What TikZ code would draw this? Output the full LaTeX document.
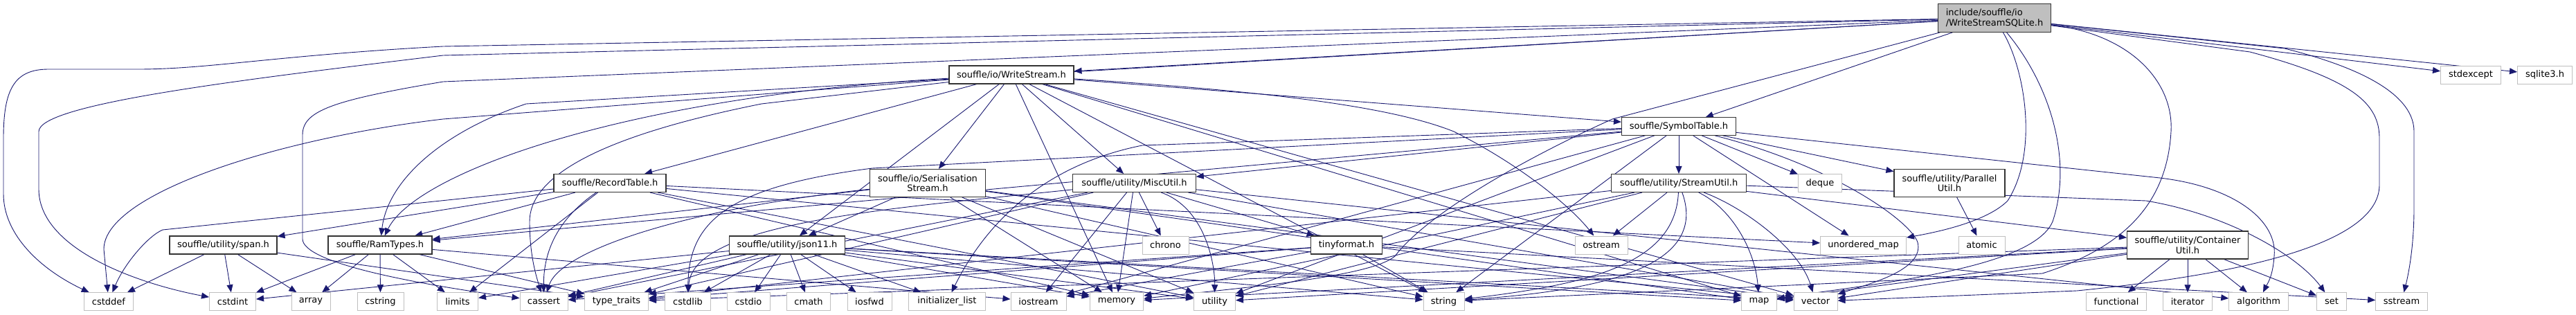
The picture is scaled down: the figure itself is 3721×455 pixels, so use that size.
\documentclass[tikz,border=0pt]{standalone}
\usepackage{fontspec}
\setmainfont{DejaVu Sans}
\usetikzlibrary{arrows.meta}
\definecolor{edgec}{HTML}{191970}
\definecolor{sysb}{HTML}{BFBFBF}
\definecolor{projb}{HTML}{333333}
\definecolor{mainf}{HTML}{BFBFBF}
\pgfdeclarelayer{bg}
\pgfsetlayers{bg,main}
\tikzset{
  box/.style={draw, line width=1.1pt, fill=white, inner sep=0pt, align=center,
    font=\fontsize{13}{14.5}\selectfont, minimum height=26pt},
  sys/.style={box, draw=sysb, line width=1pt},
  proj/.style={box, draw=projb},
  mainbox/.style={box, draw=projb, fill=mainf, align=left},
  e/.style={draw=edgec, line width=0.9pt, -{Triangle[length=11pt,width=9pt]}}
}
\begin{document}
\begin{tikzpicture}[x=1pt,y=-1pt]
\useasboundingbox (0,0) rectangle (3721,455);
% top
\node[mainbox, minimum width=163pt, minimum height=40.5pt] (main) at (2881,26) {include/souffle/io\\/WriteStreamSQLite.h};
\node[proj, minimum width=180pt] (ws) at (1461,108) {souffle/io/WriteStream.h};
\node[sys, minimum width=87pt] (stdexcept) at (3569,108) {stdexcept};
\node[sys, minimum width=79pt] (sqlite) at (3676,108) {sqlite3.h};
\node[proj, minimum width=165pt, minimum height=25.5pt] (symt) at (2425,182.5) {souffle/SymbolTable.h};
% middle rank
\node[proj, minimum width=162pt] (rect) at (881,264.5) {souffle/RecordTable.h};
\node[proj, minimum width=167pt, minimum height=40pt] (ser) at (1340,264.5) {souffle/io/Serialisation\\Stream.h};
\node[proj, minimum width=177.5pt] (misc) at (1638.5,264.5) {souffle/utility/MiscUtil.h};
\node[proj, minimum width=195pt] (sutil) at (2425,264.5) {souffle/utility/StreamUtil.h};
\node[sys, minimum width=63pt] (deque) at (2629,264.5) {deque};
\node[proj, minimum width=160pt, minimum height=40pt] (par) at (2816,264.5) {souffle/utility/Parallel\\Util.h};
% lower rank
\node[proj, minimum width=155pt] (span) at (322.5,354) {souffle/utility/span.h};
\node[proj, minimum width=150pt] (ram) at (549,354) {souffle/RamTypes.h};
\node[proj, minimum width=167pt] (json) at (1137,354) {souffle/utility/json11.h};
\node[sys, minimum width=67pt] (chrono) at (1683.5,354) {chrono};
\node[proj, minimum width=103pt] (tiny) at (1945,354) {tinyformat.h};
\node[sys, minimum width=76pt] (ostream) at (2313,354) {ostream};
\node[sys, minimum width=124pt] (umap) at (2691.5,354) {unordered\_map};
\node[sys, minimum width=67pt] (atomic) at (2862.5,354) {atomic};
\node[proj, minimum width=175pt, minimum height=40pt] (cont) at (3160,354) {souffle/utility/Container\\Util.h};
% bottom row
\tikzset{bot/.style={sys, minimum height=25.5pt}}
\node[bot, minimum width=71pt] (cstddef) at (157,435.5) {cstddef};
\node[bot, minimum width=67pt] (cstdint) at (336,435.5) {cstdint};
\node[bot, minimum width=56pt] (array) at (449,435.5) {array};
\node[bot, minimum width=67pt] (cstring) at (549.5,435.5) {cstring};
\node[bot, minimum width=59pt] (limits) at (661,435.5) {limits};
\node[bot, minimum width=69pt] (cassert) at (785.5,435.5) {cassert};
\node[bot, minimum width=92pt] (typetr) at (890.5,435.5) {type\_traits};
\node[bot, minimum width=66pt] (cstdlib) at (993.5,435.5) {cstdlib};
\node[bot, minimum width=62pt] (cstdio) at (1081,435.5) {cstdio};
\node[bot, minimum width=63pt] (cmath) at (1168,435.5) {cmath};
\node[bot, minimum width=64pt] (iosfwd) at (1256,435.5) {iosfwd};
\node[bot, minimum width=111pt] (initl) at (1368,435.5) {initializer\_list};
\node[bot, minimum width=80pt] (iostream) at (1500,435.5) {iostream};
\node[bot, minimum width=77.5pt] (memory) at (1613,435.5) {memory};
\node[bot, minimum width=60pt] (utility) at (1754.5,435.5) {utility};
\node[bot, minimum width=59pt] (string) at (2085.5,435.5) {string};
\node[bot, minimum width=50.5pt] (map) at (2541,435.5) {map};
\node[bot, minimum width=63pt] (vector) at (2622.5,435.5) {vector};
\node[bot, minimum width=86.5pt] (functional) at (3057,435.5) {functional};
\node[bot, minimum width=70.5pt] (iterator) at (3160,435.5) {iterator};
\node[bot, minimum width=85.5pt] (algorithm) at (3262.5,435.5) {algorithm};
\node[bot, minimum width=43pt] (set) at (3368,435.5) {set};
\node[bot, minimum width=74.5pt] (sstream) at (3469,435.5) {sstream};

\begin{pgfonlayer}{bg}
% ---- main
\draw[e] (main) -- (ws);
\draw[e] (main) -- (symt);
\draw[e] (main) -- (stdexcept);
\draw[e] (main) -- (sqlite);
\draw[e] (main) -- (640,67) .. controls (400,80) and (300,100) .. (200,100) -- (70,100) .. controls (20,100) and (5,130) .. (5,200) -- (5,280) .. controls (5,340) and (60,390) .. (cstddef);
\draw[e] (main) -- (640,80) .. controls (350,115) and (56,150) .. (56,190) -- (56,273) .. controls (56,360) and (200,410) .. (cstdint);
\draw[e] (main) -- (640,118) .. controls (480,145) and (437,160) .. (437,195) -- (437,345) .. controls (437,380) and (600,410) .. (cassert);
\draw[e] (main) -- (760,150) .. controls (640,190) and (560,260) .. (ram);
\draw[e] (main) -- (3300,70) .. controls (3420,100) and (3487,140) .. (3487,190) -- (3487,300) .. controls (3487,360) and (3478,400) .. (sstream);
\draw[e] (main) -- (3250,75) .. controls (3400,115) and (3437,150) .. (3437,200) -- (3437,267) .. controls (3437,360) and (3200,400) .. (3000,420) -- (vector);
\draw[e] (main) .. controls (2925,100) and (2945,220) .. (2900,290) .. controls (2870,320) and (2800,335) .. (umap);
\draw[e] (main) .. controls (2960,120) and (2995,230) .. (2965,320) .. controls (2935,390) and (2700,410) .. (map);
\draw[e] (main) .. controls (3080,50) and (3140,120) .. (3136,190) .. controls (3130,300) and (3060,360) .. (2950,395) -- (string);
\draw[e] (main) -- (2329,172) .. controls (2200,230) and (2060,310) .. (2015,370) .. controls (1980,400) and (1800,415) .. (memory);
% ---- WriteStream
\draw[e] (ws) .. controls (900,140) and (600,250) .. (ram);
\draw[e] (ws) -- (rect);
\draw[e] (ws) -- (ser);
\draw[e] (ws) -- (json);
\draw[e] (ws) -- (misc);
\draw[e] (ws) -- (memory);
\draw[e] (ws) -- (symt);
\draw[e] (ws) -- (string);
\draw[e] (ws) -- (map);
\draw[e] (ws) -- (vector);
\draw[e] (ws) -- (640,172) .. controls (400,200) and (150,280) .. (150,360) -- (cstddef);
\draw[e] (ws) -- (1100,150) .. controls (850,200) and (765,260) .. (765,320) .. controls (765,370) and (775,400) .. (cassert);
\draw[e] (ws) .. controls (1800,130) and (2000,150) .. (2100,190) .. controls (2200,240) and (2270,300) .. (ostream);
% ---- RecordTable
\draw[e] (rect) -- (ram);
\draw[e] (rect) -- (span);
\draw[e] (rect) .. controls (800,320) and (785,370) .. (cassert);
\draw[e] (rect) -- (235,332) .. controls (215,340) and (180,380) .. (cstddef);
\draw[e] (rect) -- (limits);
\draw[e] (rect) -- (memory);
\draw[e] (rect) -- (umap);
\draw[e] (rect) -- (utility);
\draw[e] (rect) -- (vector);
% ---- Serialisation
\draw[e] (ser) -- (ram);
\draw[e] (ser) -- (json);
\draw[e] (ser) .. controls (1000,300) and (810,360) .. (cassert);
\draw[e] (ser) -- (memory);
\draw[e] (ser) -- (string);
\draw[e] (ser) -- (utility);
\draw[e] (ser) -- (vector);
\draw[e] (ser) -- (map);
% ---- SymbolTable
\draw[e] (symt) -- (sutil);
\draw[e] (symt) -- (misc);
\draw[e] (symt) -- (ram);
\draw[e] (symt) -- (par);
\draw[e] (symt) -- (deque);
\draw[e] (symt) -- (umap);
\draw[e] (symt) -- (1260,243) .. controls (1050,270) and (995,320) .. (cstdlib);
\draw[e] (symt) -- (1650,210) .. controls (1500,240) and (1420,330) .. (initl);
\draw[e] (symt) -- (iostream);
\draw[e] (symt) -- (string);
\draw[e] (symt) -- (utility);
\draw[e] (symt) -- (3120,257) .. controls (3230,270) and (3290,320) .. (3285,370) .. controls (3283,400) and (3275,410) .. (algorithm);
\draw[e] (symt) .. controls (2650,240) and (2760,320) .. (2770,350) .. controls (2780,390) and (2700,410) .. (vector);
% ---- MiscUtil
\draw[e] (misc) -- (tiny);
\draw[e] (misc) -- (chrono);
\draw[e] (misc) -- (iostream);
\draw[e] (misc) -- (memory);
\draw[e] (misc) .. controls (1740,300) and (1755,380) .. (utility);
\draw[e] (misc) -- (cassert);
\draw[e] (misc) .. controls (1300,300) and (1000,320) .. (cstdlib);
\draw[e] (misc) -- (typetr);
\draw[e] (misc) -- (algorithm);
\draw[e] (misc) -- (vector);
% ---- StreamUtil
\draw[e] (sutil) -- (ostream);
\draw[e] (sutil) -- (cont);
\draw[e] (sutil) .. controls (2500,300) and (2535,360) .. (map);
\draw[e] (sutil) .. controls (2520,300) and (2600,360) .. (vector);
\draw[e] (sutil) -- (3100,290) .. controls (3220,310) and (3320,370) .. (set);
\draw[e] (sutil) .. controls (2420,380) and (2300,410) .. (string);
\draw[e] (sutil) .. controls (2470,390) and (2300,420) .. (string);
\draw[e] (sutil) -- (memory);
\draw[e] (sutil) -- (utility);
\draw[e] (sutil) -- (typetr);
% ---- json11
\draw[e] (json) -- (cassert);
\draw[e] (json) -- (cmath);
\draw[e] (json) -- (cstdint);
\draw[e] (json) -- (cstdio);
\draw[e] (json) -- (cstdlib);
\draw[e] (json) -- (initl);
\draw[e] (json) -- (iosfwd);
\draw[e] (json) -- (limits);
\draw[e] (json) -- (map);
\draw[e] (json) -- (memory);
\draw[e] (json) -- (string);
\draw[e] (json) -- (typetr);
\draw[e] (json) -- (utility);
\draw[e] (json) -- (vector);
% ---- RamTypes
\draw[e] (ram) -- (cstdint);
\draw[e] (ram) -- (array);
\draw[e] (ram) -- (cstring);
\draw[e] (ram) -- (limits);
\draw[e] (ram) -- (iostream);
\draw[e] (ram) -- (typetr);
% ---- span
\draw[e] (span) -- (cstddef);
\draw[e] (span) -- (cstdint);
\draw[e] (span) -- (array);
\draw[e] (span) -- (typetr);
% ---- tinyformat
\draw[e] (tiny) -- (string);
\draw[e] (tiny) -- (cassert);
\draw[e] (tiny) -- (iostream);
\draw[e] (tiny) -- (sstream);
\draw[e] (tiny) -- (typetr);
% ---- ContainerUtil
\draw[e] (cont) -- (functional);
\draw[e] (cont) -- (iterator);
\draw[e] (cont) -- (algorithm);
\draw[e] (cont) -- (set);
\draw[e] (cont) -- (memory);
\draw[e] (cont) -- (utility);
\draw[e] (cont) -- (typetr);
\draw[e] (cont) -- (vector);
\draw[e] (cont) -- (map);
% ---- ParallelUtil
\draw[e] (par) -- (atomic);
\end{pgfonlayer}
\end{tikzpicture}
\end{document}
